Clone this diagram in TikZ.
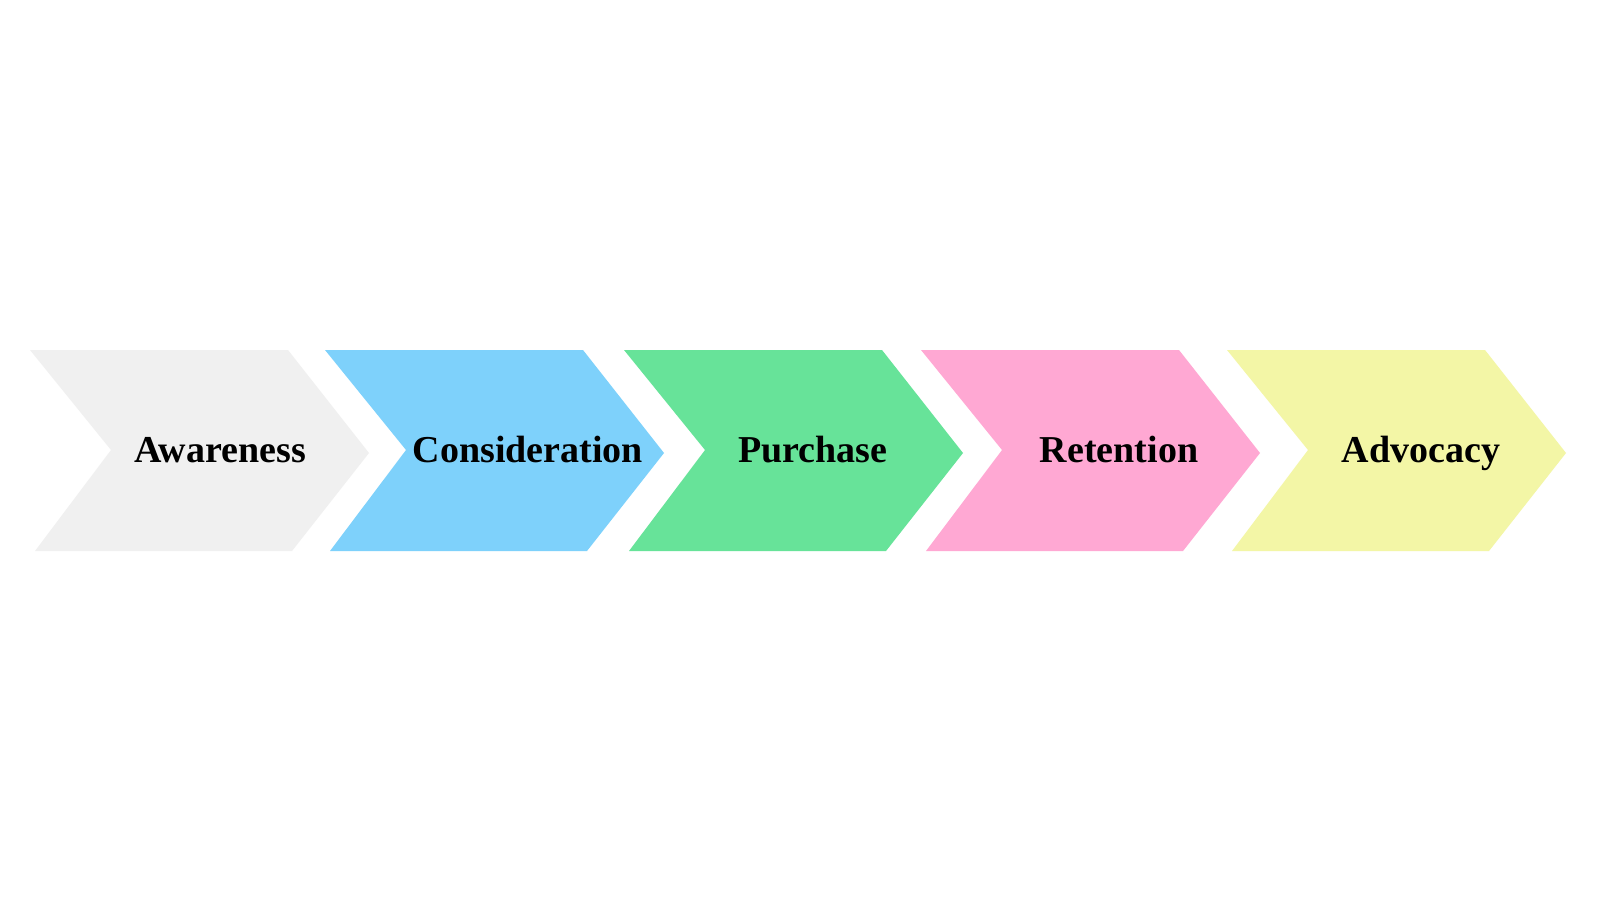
\documentclass[tikz,border=0pt]{standalone}
\usepackage{fontspec}
\setmainfont{Liberation Serif}
\definecolor{cgray}{RGB}{240,240,240}
\definecolor{cblue}{RGB}{126,209,251}
\definecolor{cgreen}{RGB}{103,227,153}
\definecolor{cpink}{RGB}{255,168,211}
\definecolor{cyellow}{RGB}{243,246,166}
\newcommand\chevshape[2]{\fill[#2] (#1,350) -- ++(258,0) -- ++(81,103) -- ++(-77,98) -- ++(-257,0) -- ++(76,-101) -- cycle;}
\begin{document}
\begin{tikzpicture}[x=1pt,y=-1pt,
  lbl/.style={anchor=base,inner sep=0pt,font=\fontsize{38}{40}\selectfont\bfseries,text=black}]
\useasboundingbox (0,0) rectangle (1600,900);
\fill[white] (0,0) rectangle (1600,900);
\chevshape{30}{cgray}
\chevshape{325}{cblue}
\chevshape{624}{cgreen}
\chevshape{921}{cpink}
\chevshape{1227}{cyellow}
\node[lbl] (aw) at (220,462) {Awareness};
\node[lbl] (co) at (528,462) {Consideration};
\node[lbl] (pu) at (813,462) {Purchase};
\node[lbl] (re) at (1119,462) {Retention};
\node[lbl] (ad) at (1421,462) {Advocacy};
\end{tikzpicture}
\end{document}
